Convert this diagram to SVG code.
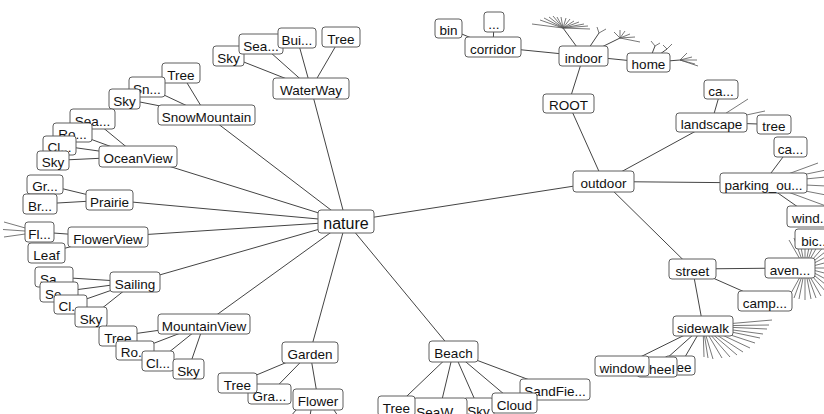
<svg xmlns="http://www.w3.org/2000/svg" width="824" height="414" viewBox="0 0 824 414">
  <style>
    .bg { fill: #ffffff; }
    .edges line { stroke: #444444; stroke-width: 1; }
    .edges .ray { stroke: #555555; stroke-width: 0.8; }
    .n rect { fill: #ffffff; stroke: #5e5e5e; stroke-width: 1; }
    .n text { font-family: "Liberation Sans", Arial, sans-serif; font-size: 13.5px; fill: #111111; text-anchor: middle; }
    #nature text { font-size: 16px; }
  </style>
  <rect class="bg" x="0" y="0" width="824" height="414"/>

  <g class="edges">
    <!-- nature hub -->
    <line x1="346" y1="221.5" x2="311" y2="88.5"/>
    <line x1="346" y1="221.5" x2="206.5" y2="115"/>
    <line x1="346" y1="221.5" x2="138" y2="156.5"/>
    <line x1="346" y1="221.5" x2="109.5" y2="200"/>
    <line x1="346" y1="221.5" x2="108" y2="237"/>
    <line x1="346" y1="221.5" x2="135" y2="282"/>
    <line x1="346" y1="221.5" x2="204" y2="324"/>
    <line x1="346" y1="221.5" x2="310" y2="352.5"/>
    <line x1="346" y1="221.5" x2="453.5" y2="351.5"/>
    <line x1="346" y1="221.5" x2="603.5" y2="181.5"/>
    <!-- WaterWay -->
    <line x1="311" y1="88.5" x2="228.5" y2="56"/>
    <line x1="311" y1="88.5" x2="261" y2="44"/>
    <line x1="311" y1="88.5" x2="297" y2="38"/>
    <line x1="311" y1="88.5" x2="341" y2="37"/>
    <!-- SnowMountain -->
    <line x1="206.5" y1="115" x2="181" y2="73"/>
    <line x1="206.5" y1="115" x2="147" y2="87"/>
    <line x1="206.5" y1="115" x2="124.5" y2="99"/>
    <!-- OceanView -->
    <line x1="138" y1="156.5" x2="92.5" y2="119"/>
    <line x1="138" y1="156.5" x2="72.5" y2="132.5"/>
    <line x1="138" y1="156.5" x2="59.5" y2="145.5"/>
    <line x1="138" y1="156.5" x2="53" y2="160.5"/>
    <!-- Prairie -->
    <line x1="109.5" y1="200" x2="45" y2="184.5"/>
    <line x1="109.5" y1="200" x2="40" y2="204"/>
    <!-- FlowerView -->
    <line x1="108" y1="237" x2="39.5" y2="232"/>
    <line x1="108" y1="237" x2="46.5" y2="253"/>
    <line class="ray" x1="39.5" y1="232" x2="4" y2="222"/>
    <line class="ray" x1="39.5" y1="232" x2="3" y2="229.5"/>
    <line class="ray" x1="39.5" y1="232" x2="4" y2="237"/>
    <!-- Sailing -->
    <line x1="135" y1="282" x2="54" y2="277"/>
    <line x1="135" y1="282" x2="59" y2="292"/>
    <line x1="135" y1="282" x2="70.5" y2="304.5"/>
    <line x1="135" y1="282" x2="91" y2="317"/>
    <!-- MountainView -->
    <line x1="204" y1="324" x2="118" y2="336"/>
    <line x1="204" y1="324" x2="135" y2="350.5"/>
    <line x1="204" y1="324" x2="158" y2="361"/>
    <line x1="204" y1="324" x2="188.5" y2="369"/>
    <!-- Garden -->
    <line x1="310" y1="352.5" x2="237.5" y2="383"/>
    <line x1="310" y1="352.5" x2="269.5" y2="394"/>
    <line x1="310" y1="352.5" x2="318" y2="399.5"/>
    <line x1="296" y1="410" x2="291" y2="416"/>
    <line x1="311" y1="410" x2="310" y2="416"/>
    <line x1="334" y1="410" x2="338" y2="416"/>
    <!-- Beach -->
    <line x1="453.5" y1="351.5" x2="396.5" y2="406"/>
    <line x1="453.5" y1="351.5" x2="440" y2="408"/>
    <line x1="453.5" y1="351.5" x2="478.5" y2="408"/>
    <line x1="453.5" y1="351.5" x2="514.5" y2="403"/>
    <line x1="453.5" y1="351.5" x2="555" y2="389.5"/>
    <!-- ROOT, indoor -->
    <line x1="568.5" y1="103.5" x2="583.5" y2="56"/>
    <line x1="568.5" y1="103.5" x2="603.5" y2="181.5"/>
    <line x1="583.5" y1="56" x2="493" y2="47"/>
    <line x1="583.5" y1="56" x2="648.5" y2="62.5"/>
    <line x1="493" y1="47" x2="448.5" y2="28.5"/>
    <line x1="493" y1="47" x2="494" y2="22"/>
    <line x1="583.5" y1="56" x2="563" y2="28"/>
    <line class="ray" x1="563" y1="28" x2="532" y2="24"/>
    <line class="ray" x1="563" y1="28" x2="540" y2="20"/>
    <line class="ray" x1="563" y1="28" x2="544" y2="18"/>
    <line class="ray" x1="563" y1="28" x2="549" y2="17"/>
    <line class="ray" x1="563" y1="28" x2="553" y2="16"/>
    <line class="ray" x1="563" y1="28" x2="557" y2="17"/>
    <line class="ray" x1="563" y1="28" x2="561" y2="17"/>
    <line class="ray" x1="563" y1="28" x2="566" y2="18"/>
    <line class="ray" x1="563" y1="28" x2="570" y2="19"/>
    <line class="ray" x1="563" y1="28" x2="574" y2="21"/>
    <line class="ray" x1="563" y1="28" x2="579" y2="22"/>
    <line class="ray" x1="563" y1="28" x2="584" y2="24"/>
    <line class="ray" x1="563" y1="28" x2="588" y2="26"/>
    <line class="ray" x1="563" y1="28" x2="590" y2="29"/>
    <line x1="583.5" y1="56" x2="599" y2="33"/>
    <line class="ray" x1="599" y1="33" x2="597" y2="27"/>
    <line class="ray" x1="599" y1="33" x2="606" y2="29"/>
    <line x1="583.5" y1="56" x2="620" y2="38"/>
    <line class="ray" x1="620" y1="38" x2="614" y2="32"/>
    <line class="ray" x1="620" y1="38" x2="620" y2="30"/>
    <line class="ray" x1="620" y1="38" x2="625" y2="31"/>
    <line class="ray" x1="620" y1="38" x2="630" y2="34"/>
    <line class="ray" x1="620" y1="38" x2="635" y2="37"/>
    <line class="ray" x1="620" y1="38" x2="640" y2="42"/>
    <!-- home -->
    <line x1="648.5" y1="62.5" x2="655" y2="46"/>
    <line class="ray" x1="655" y1="46" x2="651" y2="41"/>
    <line class="ray" x1="655" y1="46" x2="660" y2="43"/>
    <line x1="648.5" y1="62.5" x2="667" y2="49"/>
    <line class="ray" x1="667" y1="49" x2="663" y2="45"/>
    <line class="ray" x1="667" y1="49" x2="672" y2="44"/>
    <line x1="648.5" y1="62.5" x2="680" y2="60"/>
    <line class="ray" x1="680" y1="60" x2="687" y2="53"/>
    <line class="ray" x1="680" y1="60" x2="692" y2="57"/>
    <line class="ray" x1="680" y1="60" x2="697" y2="60"/>
    <line class="ray" x1="680" y1="60" x2="695" y2="64"/>
    <line class="ray" x1="680" y1="60" x2="698" y2="66"/>
    <!-- outdoor -->
    <line x1="603.5" y1="181.5" x2="711.5" y2="122.5"/>
    <line x1="603.5" y1="181.5" x2="763.5" y2="183"/>
    <line x1="603.5" y1="181.5" x2="692.5" y2="269"/>
    <!-- landscape -->
    <line x1="711.5" y1="122.5" x2="721" y2="89.5"/>
    <line x1="711.5" y1="122.5" x2="774" y2="124.5"/>
    <line class="ray" x1="711.5" y1="122.5" x2="748" y2="99"/>
    <line class="ray" x1="711.5" y1="122.5" x2="765" y2="111"/>
    <!-- parking -->
    <line x1="763.5" y1="183" x2="790.5" y2="147"/>
    <line x1="763.5" y1="183" x2="811.5" y2="216.5"/>
    <line class="ray" x1="763.5" y1="183" x2="818" y2="163"/>
    <line class="ray" x1="763.5" y1="183" x2="826" y2="170"/>
    <line class="ray" x1="763.5" y1="183" x2="826" y2="177"/>
    <line class="ray" x1="763.5" y1="183" x2="826" y2="186"/>
    <line class="ray" x1="763.5" y1="183" x2="826" y2="195"/>
    <line class="ray" x1="763.5" y1="183" x2="826" y2="206"/>
    <!-- street -->
    <line x1="692.5" y1="269" x2="790" y2="268"/>
    <line x1="692.5" y1="269" x2="765" y2="301"/>
    <line x1="692.5" y1="269" x2="703" y2="326"/>
    <!-- aven fan -->
    <line class="ray" x1="805" y1="268" x2="789" y2="240"/>
    <line class="ray" x1="805" y1="268" x2="794" y2="238"/>
    <line class="ray" x1="805" y1="268" x2="799" y2="237"/>
    <line class="ray" x1="805" y1="268" x2="805" y2="236"/>
    <line class="ray" x1="805" y1="268" x2="811" y2="237"/>
    <line class="ray" x1="805" y1="268" x2="816" y2="238"/>
    <line class="ray" x1="805" y1="268" x2="821" y2="240"/>
    <line class="ray" x1="805" y1="268" x2="826" y2="244"/>
    <line class="ray" x1="805" y1="268" x2="830" y2="248"/>
    <line class="ray" x1="805" y1="268" x2="833" y2="253"/>
    <line class="ray" x1="805" y1="268" x2="836" y2="260"/>
    <line class="ray" x1="805" y1="268" x2="837" y2="268"/>
    <line class="ray" x1="805" y1="268" x2="836" y2="276"/>
    <line class="ray" x1="805" y1="268" x2="833" y2="283"/>
    <line class="ray" x1="805" y1="268" x2="830" y2="288"/>
    <line class="ray" x1="805" y1="268" x2="826" y2="292"/>
    <line class="ray" x1="805" y1="268" x2="821" y2="296"/>
    <line class="ray" x1="805" y1="268" x2="816" y2="298"/>
    <line class="ray" x1="805" y1="268" x2="811" y2="299"/>
    <line class="ray" x1="805" y1="268" x2="805" y2="300"/>
    <line class="ray" x1="805" y1="268" x2="799" y2="299"/>
    <line class="ray" x1="805" y1="268" x2="794" y2="298"/>
    <line class="ray" x1="805" y1="268" x2="790" y2="295"/>
    <!-- sidewalk -->
    <line x1="703" y1="326" x2="622" y2="366"/>
    <line x1="703" y1="326" x2="657" y2="367"/>
    <line x1="703" y1="326" x2="680" y2="365.5"/>
    <line class="ray" x1="703" y1="326" x2="772" y2="320"/>
    <line class="ray" x1="703" y1="326" x2="769" y2="325"/>
    <line class="ray" x1="703" y1="326" x2="767" y2="329"/>
    <line class="ray" x1="703" y1="326" x2="763" y2="334"/>
    <line class="ray" x1="703" y1="326" x2="760" y2="338"/>
    <line class="ray" x1="703" y1="326" x2="755" y2="343"/>
    <line class="ray" x1="703" y1="326" x2="750" y2="348"/>
    <line class="ray" x1="703" y1="326" x2="743" y2="352"/>
    <line class="ray" x1="703" y1="326" x2="737" y2="355"/>
    <line class="ray" x1="703" y1="326" x2="730" y2="357"/>
    <line class="ray" x1="703" y1="326" x2="722" y2="358"/>
    <line class="ray" x1="703" y1="326" x2="713" y2="359"/>
    <line class="ray" x1="703" y1="326" x2="708" y2="358"/>
    <line class="ray" x1="703" y1="326" x2="704" y2="357"/>
  </g>

  <!-- WaterWay cluster -->
  <g id="ww-sky" class="n"><rect x="213" y="46" width="31" height="20" rx="3"/><text x="228.5" y="62.5">Sky</text></g>
  <g id="ww-sea" class="n"><rect x="239" y="34" width="44" height="20" rx="3"/><text x="261" y="50.5">Sea...</text></g>
  <g id="ww-bui" class="n"><rect x="278" y="28" width="38" height="20" rx="3"/><text x="297" y="44.5">Bui...</text></g>
  <g id="ww-tree" class="n"><rect x="322" y="27" width="38" height="20" rx="3"/><text x="341" y="43.5">Tree</text></g>
  <g id="waterway" class="n"><rect x="273" y="78" width="76" height="21" rx="3"/><text x="311" y="95">WaterWay</text></g>

  <!-- SnowMountain cluster -->
  <g id="sm-tree" class="n"><rect x="162" y="63" width="38" height="20" rx="3"/><text x="181" y="79.5">Tree</text></g>
  <g id="sm-sn" class="n"><rect x="129" y="77" width="36" height="20" rx="3"/><text x="147" y="93.5">Sn...</text></g>
  <g id="sm-sky" class="n"><rect x="109" y="89" width="31" height="20" rx="3"/><text x="124.5" y="105.5">Sky</text></g>
  <g id="snowmountain" class="n"><rect x="158" y="105" width="97" height="20" rx="3"/><text x="206.5" y="121.5">SnowMountain</text></g>

  <!-- OceanView cluster -->
  <g id="ov-sea" class="n"><rect x="70" y="109" width="45" height="20" rx="3"/><text x="92.5" y="125.5">Sea...</text></g>
  <g id="ov-ro" class="n"><rect x="53" y="123" width="39" height="19" rx="3"/><text x="72.5" y="139">Ro...</text></g>
  <g id="ov-cl" class="n"><rect x="43" y="136" width="33" height="19" rx="3"/><text x="59.5" y="152">Cl...</text></g>
  <g id="ov-sky" class="n"><rect x="37" y="151" width="32" height="19" rx="3"/><text x="53" y="167">Sky</text></g>
  <g id="oceanview" class="n"><rect x="99" y="146" width="78" height="21" rx="3"/><text x="138" y="163">OceanView</text></g>

  <!-- Prairie cluster -->
  <g id="pr-gr" class="n"><rect x="27" y="175" width="36" height="19" rx="3"/><text x="45" y="191">Gr...</text></g>
  <g id="pr-br" class="n"><rect x="23" y="194" width="34" height="20" rx="3"/><text x="40" y="210.5">Br...</text></g>
  <g id="prairie" class="n"><rect x="86" y="190" width="47" height="20" rx="3"/><text x="109.5" y="206.5">Prairie</text></g>

  <!-- FlowerView cluster -->
  <g id="fv-fl" class="n"><rect x="25" y="222" width="29" height="20" rx="3"/><text x="39.5" y="238.5">Fl...</text></g>
  <g id="fv-leaf" class="n"><rect x="28" y="243" width="37" height="20" rx="3"/><text x="46.5" y="259.5">Leaf</text></g>
  <g id="flowerview" class="n"><rect x="68" y="227" width="80" height="20" rx="3"/><text x="108" y="243.5">FlowerView</text></g>

  <!-- Sailing cluster -->
  <g id="sa-sa" class="n"><rect x="35" y="267" width="38" height="20" rx="3"/><text x="54" y="283.5">Sa...</text></g>
  <g id="sa-se" class="n"><rect x="40" y="282" width="38" height="20" rx="3"/><text x="59" y="298.5">Se...</text></g>
  <g id="sa-cl" class="n"><rect x="54" y="295" width="33" height="19" rx="3"/><text x="70.5" y="311">Cl...</text></g>
  <g id="sa-sky" class="n"><rect x="75" y="307" width="32" height="20" rx="3"/><text x="91" y="323.5">Sky</text></g>
  <g id="sailing" class="n"><rect x="110" y="272" width="50" height="20" rx="3"/><text x="135" y="288.5">Sailing</text></g>

  <!-- MountainView cluster -->
  <g id="mv-tree" class="n"><rect x="99" y="326" width="38" height="20" rx="3"/><text x="118" y="342.5">Tree</text></g>
  <g id="mv-ro" class="n"><rect x="116" y="341" width="38" height="19" rx="3"/><text x="135" y="357">Ro...</text></g>
  <g id="mv-cl" class="n"><rect x="142" y="351" width="32" height="20" rx="3"/><text x="158" y="367.5">Cl...</text></g>
  <g id="mv-sky" class="n"><rect x="173" y="359" width="31" height="20" rx="3"/><text x="188.5" y="375.5">Sky</text></g>
  <g id="mountainview" class="n"><rect x="158" y="314" width="92" height="20" rx="3"/><text x="204" y="330.5">MountainView</text></g>

  <!-- Garden cluster -->
  <g id="gd-gra" class="n"><rect x="248" y="384" width="43" height="20" rx="3"/><text x="269.5" y="400.5">Gra...</text></g>
  <g id="gd-tree" class="n"><rect x="218" y="373" width="39" height="20" rx="3"/><text x="237.5" y="389.5">Tree</text></g>
  <g id="garden" class="n"><rect x="282" y="342" width="56" height="21" rx="3"/><text x="310" y="359">Garden</text></g>
  <g id="flower" class="n"><rect x="293" y="389" width="50" height="21" rx="3"/><text x="318" y="406">Flower</text></g>

  <!-- Beach cluster -->
  <g id="b-sandfie" class="n"><rect x="520" y="379" width="70" height="21" rx="3"/><text x="555" y="396">SandFie...</text></g>
  <g id="b-sky" class="n"><rect x="463" y="398" width="31" height="20" rx="3"/><text x="478.5" y="416">Sky</text></g>
  <g id="b-seaw" class="n"><rect x="413" y="398" width="54" height="20" rx="3"/><text x="440" y="416.5">SeaW...</text></g>
  <g id="b-tree" class="n"><rect x="378" y="396" width="37" height="20" rx="3"/><text x="396.5" y="412.5">Tree</text></g>
  <g id="b-cloud" class="n"><rect x="492" y="393" width="45" height="20" rx="3"/><text x="514.5" y="409.5">Cloud</text></g>
  <g id="beach" class="n"><rect x="429" y="341" width="49" height="21" rx="3"/><text x="453.5" y="358">Beach</text></g>

  <g id="nature" class="n"><rect x="318" y="210" width="56" height="23" rx="3"/><text x="346" y="229">nature</text></g>

  <!-- indoor side -->
  <g id="bin" class="n"><rect x="435" y="19" width="27" height="19" rx="3"/><text x="448.5" y="35">bin</text></g>
  <g id="dots" class="n"><rect x="484" y="12" width="20" height="20" rx="3"/><text x="494" y="28.5">...</text></g>
  <g id="corridor" class="n"><rect x="465" y="37" width="56" height="20" rx="3"/><text x="493" y="53.5">corridor</text></g>
  <g id="indoor" class="n"><rect x="559" y="46" width="49" height="20" rx="3"/><text x="583.5" y="62.5">indoor</text></g>
  <g id="home" class="n"><rect x="627" y="53" width="43" height="19" rx="3"/><text x="648.5" y="69">home</text></g>
  <g id="root" class="n"><rect x="543" y="94" width="51" height="19" rx="3"/><text x="568.5" y="110">ROOT</text></g>

  <!-- outdoor side -->
  <g id="outdoor" class="n"><rect x="573" y="171" width="61" height="21" rx="3"/><text x="603.5" y="188">outdoor</text></g>
  <g id="ls-ca" class="n"><rect x="704" y="80" width="34" height="19" rx="3"/><text x="721" y="96">ca...</text></g>
  <g id="landscape" class="n"><rect x="676" y="113" width="71" height="19" rx="3"/><text x="711.5" y="129">landscape</text></g>
  <g id="ls-tree" class="n"><rect x="757" y="115" width="34" height="19" rx="3"/><text x="774" y="131">tree</text></g>
  <g id="pk-ca" class="n"><rect x="774" y="137" width="33" height="20" rx="3"/><text x="790.5" y="153.5">ca...</text></g>
  <g id="parking" class="n"><rect x="720" y="173" width="87" height="20" rx="3"/><text x="763.5" y="189.5">parking_ou...</text></g>
  <g id="wind" class="n"><rect x="787" y="206" width="49" height="21" rx="3"/><text x="811.5" y="223">wind...</text></g>
  <g id="bic" class="n"><rect x="795" y="229" width="41" height="20" rx="3"/><text x="815.5" y="245.5">bic...</text></g>
  <g id="aven" class="n"><rect x="765" y="258" width="50" height="20" rx="3"/><text x="790" y="274.5">aven...</text></g>
  <g id="street" class="n"><rect x="669" y="259" width="47" height="20" rx="3"/><text x="692.5" y="275.5">street</text></g>
  <g id="camp" class="n"><rect x="738" y="291" width="54" height="20" rx="3"/><text x="765" y="307.5">camp...</text></g>
  <g id="sidewalk" class="n"><rect x="673" y="316" width="60" height="20" rx="3"/><text x="703" y="332.5">sidewalk</text></g>
  <g id="sw-tree" class="n"><rect x="665" y="356" width="30" height="19" rx="3"/><text x="680" y="372">tree</text></g>
  <g id="sw-wheel" class="n"><rect x="637" y="357" width="40" height="20" rx="3"/><text x="657" y="373.5">wheel</text></g>
  <g id="sw-window" class="n"><rect x="595" y="356" width="54" height="20" rx="3"/><text x="622" y="372.5">window</text></g>
</svg>
